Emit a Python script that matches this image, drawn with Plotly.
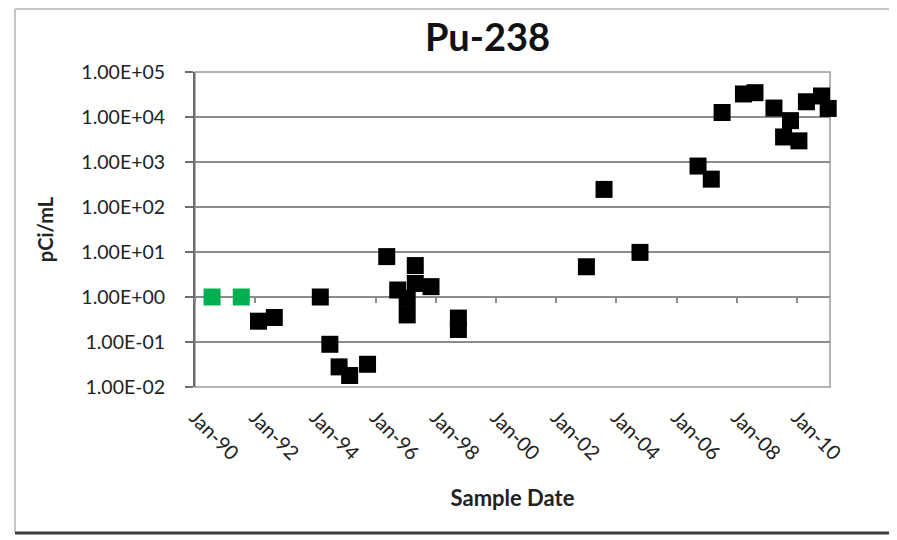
import plotly.graph_objects as go

# ---- data ----
green_dates = ["1990-07-27", "1991-07-16"]
green_values = [1.0, 1.0]

black_dates = [
    "1992-02-10", "1992-08-20", "1994-03-01", "1994-06-25", "1994-10-15",
    "1995-02-20", "1995-09-25", "1996-05-15", "1996-09-25", "1997-01-18",
    "1997-01-18", "1997-04-26", "1997-04-26", "1997-11-03", "1998-10-01",
    "1998-10-01", "2003-01-01", "2003-08-03", "2004-10-12", "2006-09-16",
    "2007-02-24", "2007-07-05", "2008-03-20", "2008-08-07", "2009-03-25",
    "2009-07-20", "2009-10-12", "2010-01-22", "2010-04-23", "2010-10-23",
    "2011-01-12",
]
black_values = [
    0.29, 0.35, 1.0, 0.089, 0.028,
    0.018, 0.032, 7.9, 1.43, 0.93,
    0.40, 5.0, 2.0, 1.7, 0.34,
    0.19, 4.7, 246, 9.8, 813,
    416, 12600, 32500, 34700, 15800,
    3600, 8300, 2950, 21800, 29300,
    15500,
]

y_tick_values = [0.01, 0.1, 1, 10, 100, 1000, 10000, 100000]
y_tick_labels = ["1.00E-02", "1.00E-01", "1.00E+00", "1.00E+01",
                 "1.00E+02", "1.00E+03", "1.00E+04", "1.00E+05"]

x_range = ["1990-01-01", "2011-02-03"]

FONT = "Lato"
GRID = "#8c8c8c"
TXT = "#222222"
OFF = 8  # page body margin of the browser

fig = go.Figure()
fig.add_trace(go.Scatter(
    x=green_dates, y=green_values, mode="markers",
    marker=dict(symbol="square", size=17, color="#00b050", line=dict(width=0)),
    cliponaxis=False, showlegend=False))
fig.add_trace(go.Scatter(
    x=black_dates, y=black_values, mode="markers",
    marker=dict(symbol="square", size=17, color="#000000", line=dict(width=0)),
    cliponaxis=False, showlegend=False))

fig.update_layout(
    width=897 - OFF, height=540 - OFF,
    margin=dict(l=195 - OFF, r=67, t=72 - OFF, b=153, autoexpand=False),
    paper_bgcolor="white", plot_bgcolor="white",
    font=dict(family=FONT, color=TXT),
    title=dict(text="<b>Pu-238</b>", x=(487.5 - OFF) / (897 - OFF), xref="container", xanchor="center",
               y=1 - (38 - OFF) / (540 - OFF), yref="container", yanchor="middle",
               font=dict(family=FONT, size=38, color="#111111")),
    # data axis: drawn at y = 1 with small tick marks, no labels
    xaxis=dict(
        type="date", range=x_range, anchor="free", position=2 / 7,
        showgrid=False, zeroline=False, layer="below traces",
        showline=True, linecolor=GRID, linewidth=1.5,
        ticks="outside", ticklen=5, tickwidth=1.5, tickcolor=GRID,
        tick0="1990-01-01", dtick="M24", showticklabels=False,
    ),
    # label axis at the bottom of the plot area
    xaxis2=dict(
        type="date", range=x_range, overlaying="x", anchor="y", side="bottom",
        showgrid=False, zeroline=False, showline=False, ticks="",
        tick0="1990-01-01", dtick="M24", tickformat="%b-%y",
        tickangle=45, ticklabelstandoff=14,
        tickfont=dict(family=FONT, size=20, color=TXT),
        title=dict(text="<b>Sample Date</b>", standoff=27,
                   font=dict(family=FONT, size=22, color=TXT)),
    ),
    yaxis=dict(
        type="log", range=[-2, 5], domain=[0, 1], layer="below traces",
        tickvals=y_tick_values, ticktext=y_tick_labels,
        showgrid=True, gridcolor=GRID, gridwidth=1.5,
        showline=True, linecolor="#6e6e6e", linewidth=2,
        ticks="outside", ticklen=8, tickwidth=1.5, tickcolor="#6e6e6e",
        ticklabelstandoff=16,
        tickfont=dict(family=FONT, size=19.5, color=TXT),
        title=dict(text="<b>pCi/mL</b>", standoff=22,
                   font=dict(family=FONT, size=20, color=TXT)),
    ),
)

# invisible trace so the label axis is rendered with the same range
fig.add_trace(go.Scatter(x=[x_range[0]], y=[1], xaxis="x2", mode="markers",
                         marker=dict(opacity=0), showlegend=False, hoverinfo="skip"))

# plot-area border (gray)
fig.add_shape(type="rect", xref="paper", yref="paper", x0=0, x1=1, y0=0, y1=1,
              line=dict(color="#9a9a9a", width=1.5), layer="below")

# outer chart frame (positions given in window pixels)
px0, px1 = 195.0, 830.0
py0, py1 = 387.0, 72.0
def fx(p):
    return (p - px0) / (px1 - px0)
def fy(p):
    return (py0 - p) / (py0 - py1)

fig.add_shape(type="line", xref="paper", yref="paper", x0=fx(15), x1=fx(15), y0=fy(532), y1=fy(9),
              line=dict(color="#b5b5b5", width=1.5))
fig.add_shape(type="line", xref="paper", yref="paper", x0=fx(15), x1=fx(893), y0=fy(9), y1=fy(9),
              line=dict(color="#b5b5b5", width=1.5))
fig.add_shape(type="line", xref="paper", yref="paper", x0=fx(893), x1=fx(893), y0=fy(533), y1=fy(9),
              line=dict(color="#3a3a3a", width=3))
fig.add_shape(type="line", xref="paper", yref="paper", x0=fx(15), x1=fx(893), y0=fy(533), y1=fy(533),
              line=dict(color="#3a3a3a", width=3))

fig.write_html("out.html")
